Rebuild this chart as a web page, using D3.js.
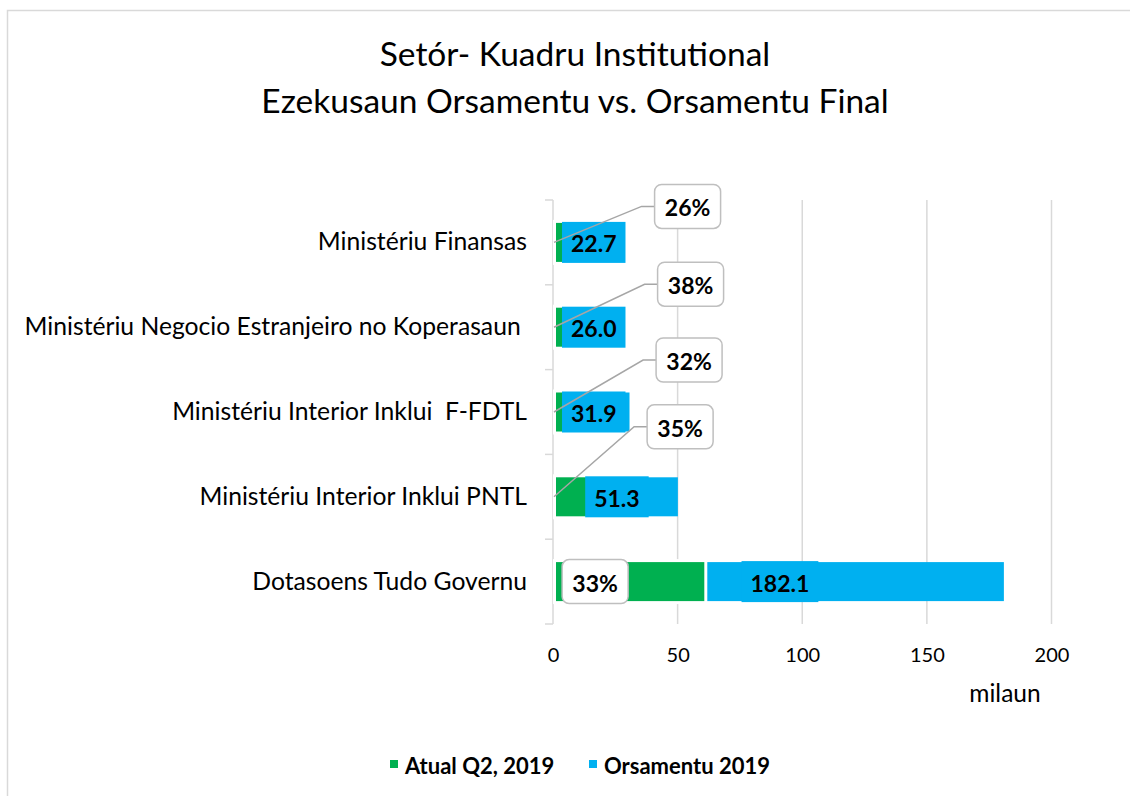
<!DOCTYPE html>
<html>
<head>
<meta charset="utf-8">
<script src="https://cdn.jsdelivr.net/npm/d3@7"></script>
<style>
  html, body { margin: 0; padding: 0; background: #fff; }
  svg { display: block; font-family: Lato, "Open Sans", sans-serif; }
</style>
</head>
<body>
<div id="chart"></div>
<script>
const categories = [
  "Ministériu Finansas",
  "Ministériu Negocio Estranjeiro no Koperasaun ",
  "Ministériu Interior Inklui  F-FDTL",
  "Ministériu Interior Inklui PNTL",
  "Dotasoens Tudo Governu"
];
const budget = [22.7, 26.0, 31.9, 51.3, 182.1];   // Orsamentu 2019
const actual = [5.9, 9.9, 10.2, 18.0, 60.1];      // Atual Q2, 2019
const pctLabels = ["26%", "38%", "32%", "35%", "33%"];
const xTicks = [0, 50, 100, 150, 200];
const seriesNames = ["Atual Q2, 2019", "Orsamentu 2019"];

// where the % callouts were dragged to (x in axis units, y offset in px)
const calloutX = [54, 55.2, 54.6, 51, 16.9];
const calloutDy = [-36, -43, -52, -70, 0];

const width = 1130, height = 796;
const green = "#00b050", blue = "#00b0f0", grid = "#d9d9d9";

const svg = d3.select("#chart").append("svg")
  .attr("width", width)
  .attr("height", height);

// chart frame
svg.append("rect")
  .attr("x", 7.5).attr("y", 10.5)
  .attr("width", 1130).attr("height", 800)
  .attr("fill", "#fff")
  .attr("stroke", grid).attr("stroke-width", 1.5);

// title
const title = svg.append("text")
  .attr("text-anchor", "middle")
  .attr("font-size", 33.5)
  .attr("fill", "#000");
title.append("tspan").attr("x", 575).attr("y", 66).text("Setór- Kuadru Institutional");
title.append("tspan").attr("x", 575).attr("y", 113).text("Ezekusaun Orsamentu vs. Orsamentu Final");

const x = d3.scaleLinear().domain([0, 200]).range([553, 1051.5]);
const y = d3.scaleBand().domain(categories).range([200, 624])
  .paddingInner(0.54).paddingOuter(0.27);

// gridlines
svg.append("g")
  .selectAll("line")
  .data(xTicks.slice(1))
  .join("line")
  .attr("x1", d => x(d)).attr("x2", d => x(d))
  .attr("y1", 200).attr("y2", 624)
  .attr("stroke", grid).attr("stroke-width", 1.5);

// x axis labels
const xAxis = svg.append("g")
  .attr("transform", "translate(0,624)")
  .call(d3.axisBottom(x).tickValues(xTicks).tickSize(0).tickPadding(24));
xAxis.select(".domain").remove();
xAxis.selectAll("text")
  .attr("font-family", "Lato, sans-serif")
  .attr("font-size", 20)
  .attr("fill", "#000");

svg.append("text")
  .attr("x", 1005).attr("y", 702)
  .attr("text-anchor", "middle")
  .attr("font-size", 24.5)
  .text("milaun");

// y axis
const yAxis = svg.append("g")
  .attr("transform", `translate(${x(0)},0)`)
  .call(d3.axisLeft(y).tickSize(0).tickPadding(26));
yAxis.select(".domain").remove();
yAxis.selectAll("text")
  .attr("font-family", "Lato, sans-serif")
  .attr("font-size", 24.7)
  .attr("fill", "#000")
  .style("white-space", "pre");

svg.append("line")
  .attr("x1", x(0)).attr("x2", x(0))
  .attr("y1", 200).attr("y2", 624)
  .attr("stroke", grid).attr("stroke-width", 1.5);
svg.append("g")
  .selectAll("line")
  .data(d3.range(categories.length + 1))
  .join("line")
  .attr("x1", x(0) - 8).attr("x2", x(0))
  .attr("y1", i => 200 + i * y.step()).attr("y2", i => 200 + i * y.step())
  .attr("stroke", grid).attr("stroke-width", 1.5);

const rows = categories.map((c, i) => ({ c, b: budget[i], a: actual[i], p: pctLabels[i], i }));

// budget bars
svg.append("g")
  .selectAll("rect")
  .data(rows)
  .join("rect")
  .attr("x", x(0) + 3)
  .attr("y", d => y(d.c))
  .attr("width", d => x(d.b) - x(0) - 6)
  .attr("height", y.bandwidth())
  .attr("fill", blue);

// actual bars (white edge separates them from budget)
svg.append("g")
  .selectAll("rect")
  .data(rows)
  .join("rect")
  .attr("x", x(0) + 1.5)
  .attr("y", d => y(d.c) - 1.5)
  .attr("width", d => x(d.a) - x(0) + 1.5)
  .attr("height", y.bandwidth() + 3)
  .attr("fill", green)
  .attr("stroke", "#fff").attr("stroke-width", 3);

// budget value labels (filled boxes centred on bar)
const bl = svg.append("g").selectAll("g")
  .data(rows)
  .join("g");
bl.append("text")
  .attr("text-anchor", "middle")
  .attr("dominant-baseline", "central")
  .attr("font-weight", "bold")
  .attr("font-size", 23)
  .text(d => d.b.toFixed(1));
bl.each(function (d) {
  const g = d3.select(this);
  const t = g.select("text");
  const w = t.node().getComputedTextLength() + 18;
  const cy = y(d.c) + y.bandwidth() / 2;
  const left = Math.max(x(d.b / 2) - w / 2, x(0) + 9);
  g.insert("rect", "text")
    .attr("x", left).attr("y", cy - 20.5)
    .attr("width", w).attr("height", 41)
    .attr("fill", blue);
  t.attr("x", left + w / 2).attr("y", cy + 1);
});

// percentage callouts
const bw = 66, bh = 44;
const co = svg.append("g").selectAll("g")
  .data(rows)
  .join("g");
co.filter(d => calloutDy[d.i] !== 0)
  .append("polyline")
  .attr("points", d => {
    const cy = y(d.c) + y.bandwidth() / 2;
    const bx = x(calloutX[d.i]) - bw / 2;
    const by = cy + calloutDy[d.i];
    return [[x(0) + 1, cy], [bx - 13, by], [bx, by]].join(" ");
  })
  .attr("fill", "none")
  .attr("stroke", "#a6a6a6").attr("stroke-width", 1.5);
co.append("rect")
  .attr("x", d => x(calloutX[d.i]) - bw / 2)
  .attr("y", d => y(d.c) + y.bandwidth() / 2 + calloutDy[d.i] - bh / 2)
  .attr("width", bw).attr("height", bh)
  .attr("rx", 7)
  .attr("fill", "#fff")
  .attr("stroke", "#bfbfbf").attr("stroke-width", 1.5);
co.append("text")
  .attr("x", d => x(calloutX[d.i]))
  .attr("y", d => y(d.c) + y.bandwidth() / 2 + calloutDy[d.i] + 1)
  .attr("text-anchor", "middle")
  .attr("dominant-baseline", "central")
  .attr("font-weight", "bold")
  .attr("font-size", 23)
  .text(d => d.p);

// legend
const legendX = [390, 589];
const lg = svg.append("g").selectAll("g")
  .data(seriesNames)
  .join("g")
  .attr("transform", (d, i) => `translate(${legendX[i]},764)`);
lg.append("rect")
  .attr("x", 0).attr("y", -4)
  .attr("width", 8).attr("height", 8)
  .attr("fill", (d, i) => i ? blue : green);
lg.append("text")
  .attr("x", 15).attr("y", 1)
  .attr("dominant-baseline", "central")
  .attr("font-weight", "bold")
  .attr("font-size", 22)
  .text(d => d);
</script>
</body>
</html>
